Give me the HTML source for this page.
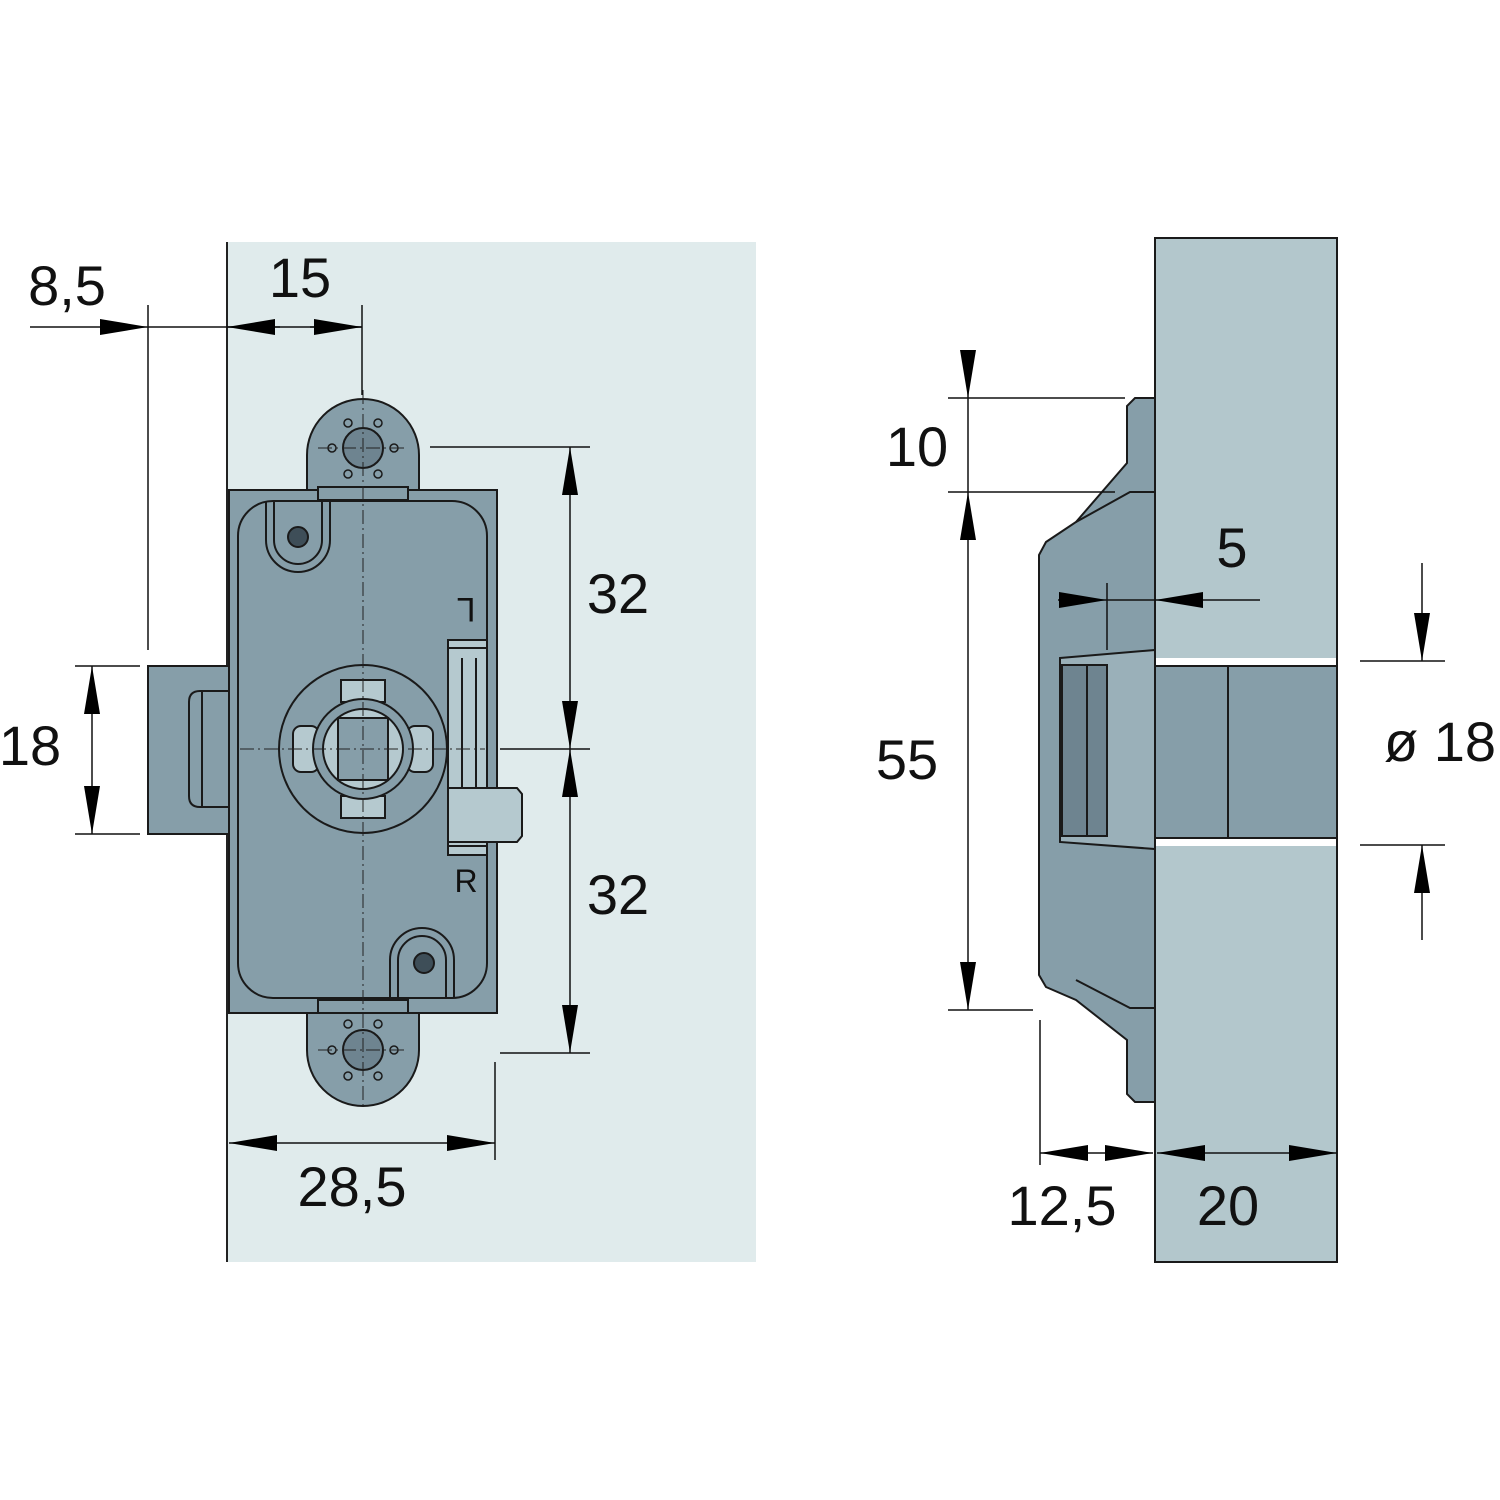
<!DOCTYPE html>
<html><head><meta charset="utf-8"><style>body{margin:0;background:#fff}svg{display:block}text{font-family:"Liberation Sans",sans-serif;font-size:56px;fill:#111;text-anchor:middle}</style></head><body>
<svg width="1500" height="1500" viewBox="0 0 1500 1500" xmlns="http://www.w3.org/2000/svg">
<defs>
<marker id="a" viewBox="0 0 48 16" refX="48" refY="8" markerWidth="48" markerHeight="16" markerUnits="userSpaceOnUse" orient="auto"><path d="M0,0 L48,8 L0,16 Z" fill="#000"/></marker>
</defs>
<rect x="227" y="242" width="529" height="1020" fill="#e0ebec"/>
<line x1="227" y1="242" x2="227" y2="1262" stroke="#222" stroke-width="2"/>
<g stroke="#1a1a1a" stroke-width="2" fill="#869ea9">
<rect x="148" y="666" width="81" height="168"/>
<path d="M229,691 H200 Q189,691 189,702 V796 Q189,807 200,807 H229" fill="#869ea9"/>
<line x1="202" y1="691" x2="202" y2="807"/>
<path d="M307,490 V455 A56,56 0 0 1 419,455 V490 Z"/>
<path d="M307,1010 V1050 A56,56 0 0 0 419,1050 V1010 Z"/>
<rect x="229" y="490" width="268" height="523"/>
<rect x="318" y="487" width="90" height="13"/>
<rect x="318" y="1000" width="90" height="13"/>
<rect x="238" y="501" width="249" height="497" rx="35"/>
<path d="M266,501 V540 A32,32 0 0 0 330,540 V501" fill="none"/>
<path d="M274,501 V540 A24,24 0 0 0 322,540 V501" fill="none"/>
<path d="M390,998 V960 A32,32 0 0 1 454,960 V998" fill="none"/>
<path d="M398,998 V960 A24,24 0 0 1 446,960 V998" fill="none"/>
<circle cx="298" cy="537" r="10" fill="#3e4e58"/>
<circle cx="424" cy="963" r="10" fill="#3e4e58"/>
<circle cx="363" cy="448" r="20" fill="#6e8490"/>
<circle cx="363" cy="1050" r="20" fill="#6e8490"/>
<g fill="none" stroke-width="1.5">
<circle cx="348" cy="423" r="4"/><circle cx="378" cy="423" r="4"/><circle cx="348" cy="474" r="4"/><circle cx="378" cy="474" r="4"/><circle cx="332" cy="448" r="4"/><circle cx="394" cy="448" r="4"/>
<circle cx="348" cy="1024" r="4"/><circle cx="378" cy="1024" r="4"/><circle cx="348" cy="1076" r="4"/><circle cx="378" cy="1076" r="4"/><circle cx="332" cy="1050" r="4"/><circle cx="394" cy="1050" r="4"/>
</g>
<circle cx="363" cy="749" r="84"/>
<rect x="341" y="680" width="44" height="22" fill="#b5c9cf"/>
<rect x="341" y="796" width="44" height="22" fill="#b5c9cf"/>
<rect x="293" y="726" width="26" height="46" rx="8" fill="#b5c9cf"/>
<rect x="407" y="726" width="26" height="46" rx="8" fill="#b5c9cf"/>
<circle cx="363" cy="749" r="50" fill="#869ea9"/>
<circle cx="363" cy="749" r="40" fill="#b5c9cf"/>
<path d="M338,718 H388 V780 H338 Z" fill="#869ea9"/>
<rect x="448" y="640" width="39" height="215" fill="#b5c9cf"/>
<line x1="462" y1="658" x2="462" y2="788"/><line x1="476" y1="658" x2="476" y2="788"/>
<line x1="448" y1="648" x2="487" y2="648"/><line x1="448" y1="846" x2="487" y2="846"/>
<path d="M448,788 H517 L522,794 V836 L517,842 H448 Z" fill="#b5c9cf"/>
</g>
<g stroke="#222" stroke-width="1" stroke-dasharray="14,4,2,4" fill="none">
<line x1="363" y1="390" x2="363" y2="1110"/>
<line x1="240" y1="749" x2="485" y2="749"/>
<line x1="318" y1="448" x2="408" y2="448"/><line x1="318" y1="1050" x2="408" y2="1050"/>
</g>
<text x="466" y="622" style="font-size:34px" transform="rotate(180 466 610)">L</text>
<text x="466" y="892" style="font-size:32px">R</text>

<rect x="1155" y="238" width="182" height="1024" fill="#b3c7cc" stroke="#1a1a1a" stroke-width="2"/>
<rect x="1156" y="658" width="180" height="8" fill="#fff"/>
<rect x="1156" y="838" width="180" height="8" fill="#fff"/>
<g stroke="#1a1a1a" stroke-width="2">
<rect x="1155" y="666" width="182" height="172" fill="#869ea9"/>
<line x1="1228" y1="666" x2="1228" y2="838"/>
<path d="M1135,398 H1155 V1102 H1135 L1127,1094 V1040 L1076,1000 L1046,987 L1039,975 V555 L1046,542 L1076,522 L1127,463 V406 Z" fill="#869ea9"/>
<path d="M1076,522 L1130,492 H1155 M1076,980 L1130,1008 H1155" fill="none"/>
<path d="M1060,658 L1155,650 V849 L1060,842 Z" fill="#9ab0b9"/>
<rect x="1062" y="665" width="25" height="171" fill="#6e8490"/>
<rect x="1087" y="665" width="20" height="171" fill="#6e8490"/>
</g>

<g stroke="#111" stroke-width="1.5" fill="none">
<line x1="30" y1="327" x2="148" y2="327" marker-end="url(#a)"/>
<line x1="148" y1="327" x2="362" y2="327"/>
<line x1="280" y1="327" x2="227" y2="327" marker-end="url(#a)"/>
<line x1="310" y1="327" x2="362" y2="327" marker-end="url(#a)"/>
<line x1="148" y1="305" x2="148" y2="650"/>
<line x1="362" y1="305" x2="362" y2="395"/>
<line x1="92" y1="749" x2="92" y2="666" marker-end="url(#a)"/>
<line x1="92" y1="749" x2="92" y2="834" marker-end="url(#a)"/>
<line x1="75" y1="666" x2="140" y2="666"/><line x1="75" y1="834" x2="140" y2="834"/>
<line x1="570" y1="600" x2="570" y2="447" marker-end="url(#a)"/>
<line x1="570" y1="600" x2="570" y2="749" marker-end="url(#a)"/>
<line x1="570" y1="900" x2="570" y2="749" marker-end="url(#a)"/>
<line x1="570" y1="900" x2="570" y2="1053" marker-end="url(#a)"/>
<line x1="430" y1="447" x2="590" y2="447"/>
<line x1="500" y1="749" x2="590" y2="749"/>
<line x1="500" y1="1053" x2="590" y2="1053"/>
<line x1="495" y1="1062" x2="495" y2="1160"/>
<line x1="360" y1="1143" x2="229" y2="1143" marker-end="url(#a)"/>
<line x1="360" y1="1143" x2="495" y2="1143" marker-end="url(#a)"/>
<line x1="968" y1="353" x2="968" y2="398" marker-end="url(#a)"/>
<line x1="968" y1="398" x2="968" y2="492"/>
<line x1="968" y1="750" x2="968" y2="492" marker-end="url(#a)"/>
<line x1="968" y1="750" x2="968" y2="1010" marker-end="url(#a)"/>
<line x1="948" y1="398" x2="1125" y2="398"/>
<line x1="948" y1="492" x2="1115" y2="492"/>
<line x1="948" y1="1010" x2="1033" y2="1010"/>
<line x1="1058" y1="600" x2="1107" y2="600" marker-end="url(#a)"/>
<line x1="1107" y1="600" x2="1155" y2="600"/>
<line x1="1260" y1="600" x2="1155" y2="600" marker-end="url(#a)"/>
<line x1="1107" y1="583" x2="1107" y2="650"/>
<line x1="1422" y1="563" x2="1422" y2="661" marker-end="url(#a)"/>
<line x1="1422" y1="940" x2="1422" y2="845" marker-end="url(#a)"/>
<line x1="1360" y1="661" x2="1445" y2="661"/>
<line x1="1360" y1="845" x2="1445" y2="845"/>
<line x1="1040" y1="1020" x2="1040" y2="1165"/>
<line x1="1095" y1="1153" x2="1040" y2="1153" marker-end="url(#a)"/>
<line x1="1095" y1="1153" x2="1153" y2="1153" marker-end="url(#a)"/>
<line x1="1245" y1="1153" x2="1157" y2="1153" marker-end="url(#a)"/>
<line x1="1245" y1="1153" x2="1337" y2="1153" marker-end="url(#a)"/>
</g>
<text x="67" y="305">8,5</text>
<text x="300" y="297">15</text>
<text x="30" y="765">18</text>
<text x="618" y="613">32</text>
<text x="618" y="914">32</text>
<text x="352" y="1206">28,5</text>
<text x="917" y="466">10</text>
<text x="907" y="779">55</text>
<text x="1232" y="567">5</text>
<text x="1440" y="761">ø 18</text>
<text x="1062" y="1225">12,5</text>
<text x="1228" y="1225">20</text>
</svg>
</body></html>
